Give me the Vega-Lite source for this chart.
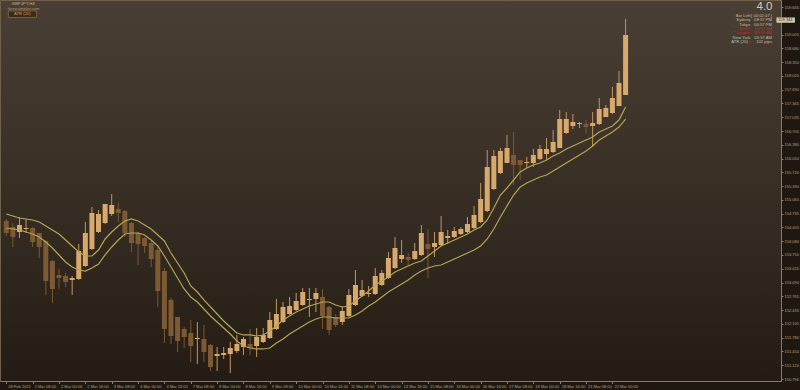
{
  "$schema": "https://vega.github.io/schema/vega-lite/v6.json",
  "width": 781,
  "height": 381,
  "autosize": {"type": "none"},
  "padding": {"left": 0, "top": 0, "right": 19, "bottom": 9},
  "background": "#1f1810",
  "config": {
    "font": "Liberation Sans",
    "axis": {"labelOverlap": false, "labelBound": false, "labelFlush": false, "tickCount": 200},
    "view": {
      "fill": {"gradient": "linear", "x1": 0, "y1": 0, "x2": 0, "y2": 1,
        "stops": [{"offset": 0, "color": "#4a3f34"}, {"offset": 1, "color": "#241c14"}]},
      "stroke": "#6e604b",
      "strokeWidth": 1
    }
  },
  "datasets": {
    "candles": [
      {"i":0,"open":154.560,"high":154.608,"low":154.202,"close":154.274,"upper":154.727,"lower":154.393},
      {"i":1,"open":154.417,"high":154.512,"low":153.940,"close":154.178,"upper":154.679,"lower":154.369},
      {"i":2,"open":154.298,"high":154.656,"low":154.155,"close":154.465,"upper":154.632,"lower":154.345},
      {"i":3,"open":154.369,"high":154.608,"low":154.274,"close":154.393,"upper":154.608,"lower":154.298},
      {"i":4,"open":154.393,"high":154.417,"low":153.940,"close":154.059,"upper":154.584,"lower":154.250},
      {"i":5,"open":154.274,"high":154.274,"low":153.677,"close":153.940,"upper":154.536,"lower":154.178},
      {"i":6,"open":154.083,"high":154.107,"low":152.795,"close":153.129,"upper":154.441,"lower":154.059},
      {"i":7,"open":153.606,"high":153.630,"low":152.604,"close":152.938,"upper":154.345,"lower":153.916},
      {"i":8,"open":153.272,"high":153.415,"low":152.938,"close":153.200,"upper":154.250,"lower":153.749},
      {"i":9,"open":153.248,"high":153.320,"low":152.986,"close":153.105,"upper":154.107,"lower":153.582},
      {"i":10,"open":153.153,"high":153.248,"low":152.795,"close":153.200,"upper":153.964,"lower":153.463},
      {"i":11,"open":153.177,"high":154.011,"low":153.153,"close":153.844,"upper":153.821,"lower":153.391},
      {"i":12,"open":153.487,"high":154.536,"low":153.463,"close":154.274,"upper":153.725,"lower":153.367},
      {"i":13,"open":153.892,"high":154.894,"low":153.868,"close":154.751,"upper":153.725,"lower":153.439},
      {"i":14,"open":154.298,"high":154.822,"low":154.274,"close":154.727,"upper":153.868,"lower":153.534},
      {"i":15,"open":154.512,"high":154.966,"low":154.489,"close":154.966,"upper":154.131,"lower":153.749},
      {"i":16,"open":154.727,"high":155.204,"low":154.679,"close":154.942,"upper":154.298,"lower":153.940},
      {"i":17,"open":154.846,"high":154.989,"low":154.536,"close":154.751,"upper":154.441,"lower":154.107},
      {"i":18,"open":154.799,"high":154.822,"low":154.178,"close":154.274,"upper":154.560,"lower":154.250},
      {"i":19,"open":154.512,"high":154.536,"low":153.821,"close":154.035,"upper":154.608,"lower":154.274},
      {"i":20,"open":154.274,"high":154.298,"low":153.510,"close":154.011,"upper":154.560,"lower":154.274},
      {"i":21,"open":154.155,"high":154.178,"low":153.797,"close":153.964,"upper":154.465,"lower":154.226},
      {"i":22,"open":154.035,"high":154.107,"low":153.463,"close":153.654,"upper":154.369,"lower":154.107},
      {"i":23,"open":153.868,"high":153.940,"low":152.509,"close":152.890,"upper":154.226,"lower":153.964},
      {"i":24,"open":153.367,"high":153.439,"low":151.650,"close":151.984,"upper":154.083,"lower":153.725},
      {"i":25,"open":152.676,"high":152.723,"low":151.626,"close":151.817,"upper":153.797,"lower":153.463},
      {"i":26,"open":152.270,"high":152.270,"low":151.435,"close":151.697,"upper":153.558,"lower":153.200},
      {"i":27,"open":151.984,"high":152.031,"low":151.530,"close":151.793,"upper":153.320,"lower":152.938},
      {"i":28,"open":151.888,"high":152.198,"low":151.197,"close":151.578,"upper":153.010,"lower":152.747},
      {"i":29,"open":151.745,"high":152.151,"low":151.149,"close":151.769,"upper":152.866,"lower":152.628},
      {"i":30,"open":151.745,"high":152.079,"low":151.197,"close":151.435,"upper":152.676,"lower":152.461},
      {"i":31,"open":151.602,"high":151.626,"low":150.982,"close":151.077,"upper":152.509,"lower":152.294},
      {"i":32,"open":151.340,"high":151.554,"low":150.982,"close":151.387,"upper":152.342,"lower":152.151},
      {"i":33,"open":151.363,"high":151.554,"low":151.268,"close":151.411,"upper":152.175,"lower":152.008},
      {"i":34,"open":151.387,"high":151.674,"low":150.934,"close":151.530,"upper":152.031,"lower":151.864},
      {"i":35,"open":151.459,"high":151.841,"low":151.411,"close":151.626,"upper":151.888,"lower":151.697},
      {"i":36,"open":151.554,"high":151.793,"low":151.363,"close":151.745,"upper":151.841,"lower":151.578},
      {"i":37,"open":151.626,"high":151.984,"low":151.363,"close":151.530,"upper":151.841,"lower":151.530},
      {"i":38,"open":151.578,"high":152.008,"low":151.316,"close":151.793,"upper":151.817,"lower":151.507},
      {"i":39,"open":151.674,"high":152.008,"low":151.650,"close":151.841,"upper":151.841,"lower":151.507},
      {"i":40,"open":151.769,"high":152.389,"low":151.745,"close":152.198,"upper":151.936,"lower":151.530},
      {"i":41,"open":151.984,"high":152.699,"low":151.960,"close":152.342,"upper":152.055,"lower":151.650},
      {"i":42,"open":152.151,"high":152.628,"low":152.127,"close":152.509,"upper":152.198,"lower":151.745},
      {"i":43,"open":152.342,"high":152.747,"low":152.318,"close":152.532,"upper":152.294,"lower":151.864},
      {"i":44,"open":152.437,"high":152.843,"low":152.413,"close":152.652,"upper":152.389,"lower":151.960},
      {"i":45,"open":152.556,"high":152.962,"low":152.532,"close":152.866,"upper":152.461,"lower":152.055},
      {"i":46,"open":152.676,"high":152.962,"low":152.270,"close":152.699,"upper":152.532,"lower":152.151},
      {"i":47,"open":152.699,"high":152.962,"low":152.389,"close":152.843,"upper":152.580,"lower":152.222},
      {"i":48,"open":152.747,"high":152.938,"low":151.984,"close":152.294,"upper":152.628,"lower":152.270},
      {"i":49,"open":152.509,"high":152.532,"low":151.841,"close":151.960,"upper":152.628,"lower":152.270},
      {"i":50,"open":152.270,"high":152.342,"low":152.031,"close":152.079,"upper":152.556,"lower":152.246},
      {"i":51,"open":152.151,"high":152.532,"low":152.079,"close":152.413,"upper":152.509,"lower":152.246},
      {"i":52,"open":152.294,"high":152.938,"low":152.270,"close":152.795,"upper":152.532,"lower":152.246},
      {"i":53,"open":152.556,"high":153.391,"low":152.532,"close":153.033,"upper":152.652,"lower":152.318},
      {"i":54,"open":152.771,"high":153.153,"low":152.747,"close":152.914,"upper":152.771,"lower":152.413},
      {"i":55,"open":152.819,"high":153.010,"low":152.747,"close":152.843,"upper":152.890,"lower":152.532},
      {"i":56,"open":152.819,"high":153.439,"low":152.795,"close":153.248,"upper":153.033,"lower":152.628},
      {"i":57,"open":153.033,"high":153.391,"low":153.010,"close":153.320,"upper":153.129,"lower":152.747},
      {"i":58,"open":153.200,"high":153.821,"low":153.177,"close":153.677,"upper":153.224,"lower":152.866},
      {"i":59,"open":153.439,"high":154.178,"low":153.415,"close":153.916,"upper":153.343,"lower":152.962},
      {"i":60,"open":153.654,"high":154.107,"low":153.558,"close":153.749,"upper":153.415,"lower":153.057},
      {"i":61,"open":153.701,"high":153.797,"low":153.510,"close":153.630,"upper":153.487,"lower":153.153},
      {"i":62,"open":153.654,"high":154.035,"low":153.630,"close":153.844,"upper":153.558,"lower":153.272},
      {"i":63,"open":153.749,"high":154.465,"low":153.725,"close":154.274,"upper":153.606,"lower":153.367},
      {"i":64,"open":154.011,"high":154.369,"low":153.200,"close":153.892,"upper":153.725,"lower":153.439},
      {"i":65,"open":153.940,"high":154.298,"low":153.701,"close":154.035,"upper":153.844,"lower":153.487},
      {"i":66,"open":153.988,"high":154.679,"low":153.964,"close":154.298,"upper":153.964,"lower":153.510},
      {"i":67,"open":154.155,"high":154.345,"low":154.011,"close":154.202,"upper":154.035,"lower":153.582},
      {"i":68,"open":154.178,"high":154.417,"low":154.155,"close":154.322,"upper":154.107,"lower":153.654},
      {"i":69,"open":154.250,"high":154.417,"low":154.226,"close":154.369,"upper":154.178,"lower":153.725},
      {"i":70,"open":154.298,"high":154.656,"low":154.274,"close":154.489,"upper":154.250,"lower":153.797},
      {"i":71,"open":154.393,"high":154.918,"low":154.369,"close":154.703,"upper":154.345,"lower":153.868},
      {"i":72,"open":154.536,"high":155.467,"low":154.512,"close":155.085,"upper":154.417,"lower":153.964},
      {"i":73,"open":154.799,"high":156.254,"low":154.775,"close":155.848,"upper":154.584,"lower":154.131},
      {"i":74,"open":155.323,"high":156.254,"low":155.300,"close":156.111,"upper":154.870,"lower":154.369},
      {"i":75,"open":155.705,"high":156.302,"low":155.681,"close":156.230,"upper":155.180,"lower":154.656},
      {"i":76,"open":155.944,"high":156.612,"low":155.944,"close":156.302,"upper":155.347,"lower":154.918},
      {"i":77,"open":156.135,"high":156.683,"low":155.419,"close":155.896,"upper":155.538,"lower":155.180},
      {"i":78,"open":156.015,"high":156.015,"low":155.538,"close":155.896,"upper":155.729,"lower":155.371},
      {"i":79,"open":155.944,"high":156.087,"low":155.824,"close":155.968,"upper":155.824,"lower":155.467},
      {"i":80,"open":155.944,"high":156.278,"low":155.848,"close":156.135,"upper":155.896,"lower":155.538},
      {"i":81,"open":156.039,"high":156.373,"low":156.015,"close":156.278,"upper":155.944,"lower":155.610},
      {"i":82,"open":156.158,"high":156.540,"low":156.015,"close":156.278,"upper":156.015,"lower":155.657},
      {"i":83,"open":156.206,"high":156.731,"low":156.182,"close":156.445,"upper":156.111,"lower":155.753},
      {"i":84,"open":156.302,"high":157.208,"low":156.302,"close":156.993,"upper":156.182,"lower":155.848},
      {"i":85,"open":156.659,"high":157.160,"low":156.635,"close":156.993,"upper":156.278,"lower":155.944},
      {"i":86,"open":156.826,"high":157.113,"low":156.755,"close":156.922,"upper":156.349,"lower":156.039},
      {"i":87,"open":156.874,"high":156.922,"low":156.779,"close":156.898,"upper":156.421,"lower":156.135},
      {"i":88,"open":156.874,"high":156.969,"low":156.659,"close":156.802,"upper":156.492,"lower":156.230},
      {"i":89,"open":156.826,"high":157.160,"low":156.325,"close":156.898,"upper":156.564,"lower":156.349},
      {"i":90,"open":156.874,"high":157.494,"low":156.850,"close":157.232,"upper":156.683,"lower":156.492},
      {"i":91,"open":157.041,"high":157.327,"low":157.041,"close":157.256,"upper":156.755,"lower":156.588},
      {"i":92,"open":157.136,"high":157.757,"low":157.113,"close":157.494,"upper":156.826,"lower":156.683},
      {"i":93,"open":157.303,"high":158.138,"low":157.303,"close":157.852,"upper":156.969,"lower":156.802},
      {"i":94,"open":157.566,"high":159.379,"low":157.566,"close":158.997,"upper":157.280,"lower":156.993}
    ],
    "info": [
      {"n":0,"label":"Bar Left","value":"[ 00:02:47 ]","hot":false},
      {"n":1,"label":"Sydney","value":"08:57 PM","hot":false},
      {"n":2,"label":"Tokyo","value":"06:57 PM","hot":false},
      {"n":3,"label":"* Berlin","value":"10:57 AM","hot":true},
      {"n":4,"label":"* London","value":"09:57 AM","hot":true},
      {"n":5,"label":"New York","value":"05:57 AM","hot":false},
      {"n":6,"label":"ATR (20) :","value":"102 pips","hot":false}
    ],
    "one": [{"k": 1}]
  },
  "resolve": {"scale": {"y": "independent"}},
  "layer": [
    {
      "layer": [
        {
          "data": {"name": "candles"},
          "mark": {"type": "rule", "strokeWidth": 1},
          "encoding": {
            "x": {"field": "i", "type": "quantitative",
              "scale": {"domain": [-0.195, 116.83], "nice": false, "zero": false},
              "axis": {"values": [0,4,8,12,16,20,24,28,32,36,40,44,48,52,56,60,64,68,72,76,80,84,88,92],
                "labelExpr": "['28 Feb 2022','1 Mar 08:00','2 Mar 00:00','2 Mar 16:00','3 Mar 08:00','4 Mar 00:00','4 Mar 16:00','7 Mar 08:00','8 Mar 00:00','8 Mar 16:00','9 Mar 08:00','10 Mar 00:00','10 Mar 16:00','11 Mar 08:00','14 Mar 00:00','14 Mar 16:00','15 Mar 08:00','16 Mar 00:00','16 Mar 16:00','17 Mar 08:00','18 Mar 00:00','18 Mar 16:00','21 Mar 08:00','22 Mar 00:00'][round(datum.value/4)]",
                "title": null, "grid": false, "labelAlign": "left", "labelBaseline": "top", "tickCount": 200,
                "labelPadding": 1, "labelOffset": 1.5, "tickSize": 2.5, "labelFontSize": 4.0,
                "labelColor": "#b7a27f", "tickColor": "#8c7b60", "domainColor": "#8c7b60",
                "labelOverlap": false, "labelBound": false, "labelFlush": false}},
            "y": {"field": "low", "type": "quantitative",
              "scale": {"domain": [150.743, 159.832], "nice": false, "zero": false},
              "axis": {"orient": "right", "title": null, "grid": false, "format": ".3f", "tickCount": 200,
                "values": [159.665,159.005,158.680,158.350,158.020,157.690,157.365,157.035,156.705,156.380,156.050,155.720,155.390,155.065,154.735,154.405,154.080,153.750,153.420,153.090,152.765,152.435,152.105,151.780,151.450,151.120,150.790],
                "labelFontSize": 4.0, "labelColor": "#b7a27f", "tickColor": "#8c7b60", "domainColor": "#8c7b60",
                "tickSize": 2, "labelPadding": 1, "labelOverlap": false, "labelBound": false, "labelFlush": false}},
            "y2": {"field": "high"},
            "color": {"condition": {"test": "datum.close >= datum.open", "value": "#c29660"}, "value": "#7a5832"}
          }
        },
        {
          "data": {"name": "candles"},
          "mark": {"type": "bar", "size": 5},
          "encoding": {
            "x": {"field": "i", "type": "quantitative"},
            "y": {"field": "open", "type": "quantitative"},
            "y2": {"field": "close"},
            "color": {"condition": {"test": "datum.close >= datum.open", "value": "#d8a96d"}, "value": "#7d5a33"}
          }
        },
        {
          "data": {"name": "candles"},
          "mark": {"type": "line", "strokeWidth": 1.2, "color": "#b3a552"},
          "encoding": {"x": {"field": "i", "type": "quantitative"}, "y": {"field": "upper", "type": "quantitative"}}
        },
        {
          "data": {"name": "candles"},
          "mark": {"type": "line", "strokeWidth": 1.2, "color": "#b3a552"},
          "encoding": {"x": {"field": "i", "type": "quantitative"}, "y": {"field": "lower", "type": "quantitative"}}
        },
        {
          "data": {"name": "one"},
          "mark": {"type": "text", "align": "left", "baseline": "middle", "fontSize": 4.3, "color": "#c8b99a", "text": "GBPJPY,H4"},
          "encoding": {"x": {"datum": 0.8}, "y": {"datum": 159.737}}
        },
        {
          "data": {"name": "one"},
          "mark": {"type": "text", "align": "left", "baseline": "middle", "fontSize": 3.9, "color": "#a89878", "text": "forexcomplex.com"},
          "encoding": {"x": {"datum": 0.2}, "y": {"datum": 159.617}}
        },
        {
          "data": {"name": "one"},
          "mark": {"type": "rect", "fill": "#3b2a17", "stroke": "#8a6b42", "strokeWidth": 0.8},
          "encoding": {"x": {"datum": 0.3}, "x2": {"datum": 4.6}, "y": {"datum": 159.570}, "y2": {"datum": 159.415}}
        },
        {
          "data": {"name": "one"},
          "mark": {"type": "text", "align": "center", "baseline": "middle", "fontSize": 4.2, "color": "#c89d65", "text": "ATR (20)"},
          "encoding": {"x": {"datum": 2.45}, "y": {"datum": 159.490}}
        },
        {
          "data": {"name": "one"},
          "mark": {"type": "text", "align": "right", "baseline": "alphabetic", "fontSize": 11.5, "color": "#d8ccb2", "text": "4.0"},
          "encoding": {"x": {"datum": 116.3}, "y": {"datum": 159.582}}
        },
        {
          "data": {"name": "one"},
          "mark": {"type": "rect", "fill": "#d9ccae", "clip": false},
          "encoding": {"x": {"datum": 116.9}, "x2": {"datum": 119.7}, "y": {"datum": 159.415}, "y2": {"datum": 159.290}}
        },
        {
          "data": {"name": "one"},
          "mark": {"type": "text", "align": "left", "baseline": "middle", "fontSize": 4.0, "color": "#2a2015", "text": "159.344"},
          "encoding": {"x": {"datum": 117.15}, "y": {"datum": 159.352}}
        }
      ]
    },
    {
      "data": {"name": "info"},
      "encoding": {
        "y": {"field": "n", "type": "ordinal", "scale": {"type": "point", "range": [15.8, 42], "padding": 0}, "axis": null}
      },
      "layer": [
        {
          "mark": {"type": "text", "align": "right", "baseline": "middle", "fontSize": 4.2},
          "encoding": {
            "x": {"datum": 112.93, "type": "quantitative"},
            "text": {"field": "label"},
            "color": {"condition": {"test": "datum.hot", "value": "#d22424"}, "value": "#c8bca2"}
          }
        },
        {
          "mark": {"type": "text", "align": "right", "baseline": "middle", "fontSize": 4.2},
          "encoding": {
            "x": {"datum": 116.23, "type": "quantitative"},
            "text": {"field": "value"},
            "color": {"condition": {"test": "datum.hot", "value": "#d22424"}, "value": "#c8bca2"}
          }
        }
      ]
    }
  ]
}
